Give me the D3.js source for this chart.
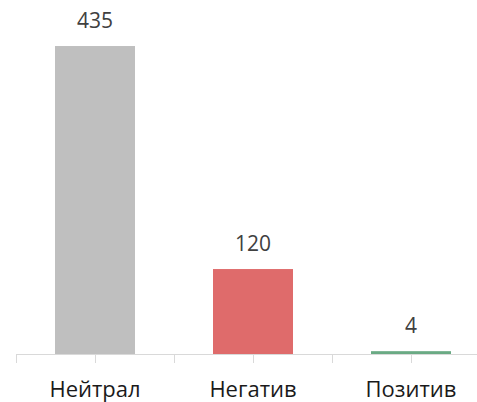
<!DOCTYPE html>
<html>
<head>
<meta charset="utf-8">
<script src="https://cdn.jsdelivr.net/npm/d3@7"></script>
<style>
  html, body { margin: 0; padding: 0; background: #fff; }
  svg { display: block; }
</style>
</head>
<body>
<svg id="chart" width="477" height="402"></svg>
<script>
const categories = ["Нейтрал", "Негатив", "Позитив"];
const values = [435, 120, 4];
const colors = ["#bfbfbf", "#df6b6b", "#6aaa84"];
const yDomain = [0, 500];

const svg = d3.select("#chart");
const baseY = 354;
const left = 16, right = 490;

const xCat = d3.scaleBand().domain(categories).range([left, right]).padding(0);
const xBar = d3.scaleBand().domain(categories).range([left, right])
  .paddingInner(0.4937).paddingOuter(0.2468);
const y = d3.scaleLinear().domain(yDomain).range([baseY, 0]);

// bars
svg.selectAll("rect.bar").data(values).enter().append("rect")
  .attr("class", "bar")
  .attr("x", (d, i) => xBar(categories[i]))
  .attr("width", xBar.bandwidth())
  .attr("y", d => y(d))
  .attr("height", d => y(0) - y(d))
  .attr("fill", (d, i) => colors[i]);

// axis line
const axisG = svg.append("g").attr("transform", `translate(0,${baseY})`);
axisG.append("line")
  .attr("x1", left).attr("x2", right)
  .attr("y1", 0.5).attr("y2", 0.5)
  .attr("stroke", "#d9d9d9").attr("stroke-width", 1);

// tick marks at boundaries and centers
const tickXs = [];
categories.forEach(c => {
  tickXs.push(xCat(c));
  tickXs.push(xCat(c) + xCat.bandwidth() / 2);
});
tickXs.push(right);
axisG.selectAll("line.tick").data(tickXs).enter().append("line")
  .attr("class", "tick")
  .attr("x1", d => Math.round(d) + 0.5).attr("x2", d => Math.round(d) + 0.5)
  .attr("y1", 0).attr("y2", 9)
  .attr("stroke", "#d9d9d9").attr("stroke-width", 1);

// category labels
const labelAxis = d3.axisBottom(xCat).tickSize(0).tickPadding(0);
const lg = svg.append("g").attr("transform", `translate(0,${baseY})`).call(labelAxis);
lg.select(".domain").remove();
lg.selectAll("text")
  .attr("y", 43).attr("dy", null)
  .attr("font-family", "'Open Sans', sans-serif")
  .attr("font-size", "22px")
  .attr("fill", "#1a1a1a");

// data labels
svg.selectAll("text.val").data(values).enter().append("text")
  .attr("class", "val")
  .attr("x", (d, i) => xCat(categories[i]) + xCat.bandwidth() / 2)
  .attr("y", d => y(d) - 18)
  .attr("text-anchor", "middle")
  .attr("font-family", "'Open Sans', sans-serif")
  .attr("font-size", "21px")
  .attr("fill", "#404040")
  .text(d => d);
</script>
</body>
</html>
